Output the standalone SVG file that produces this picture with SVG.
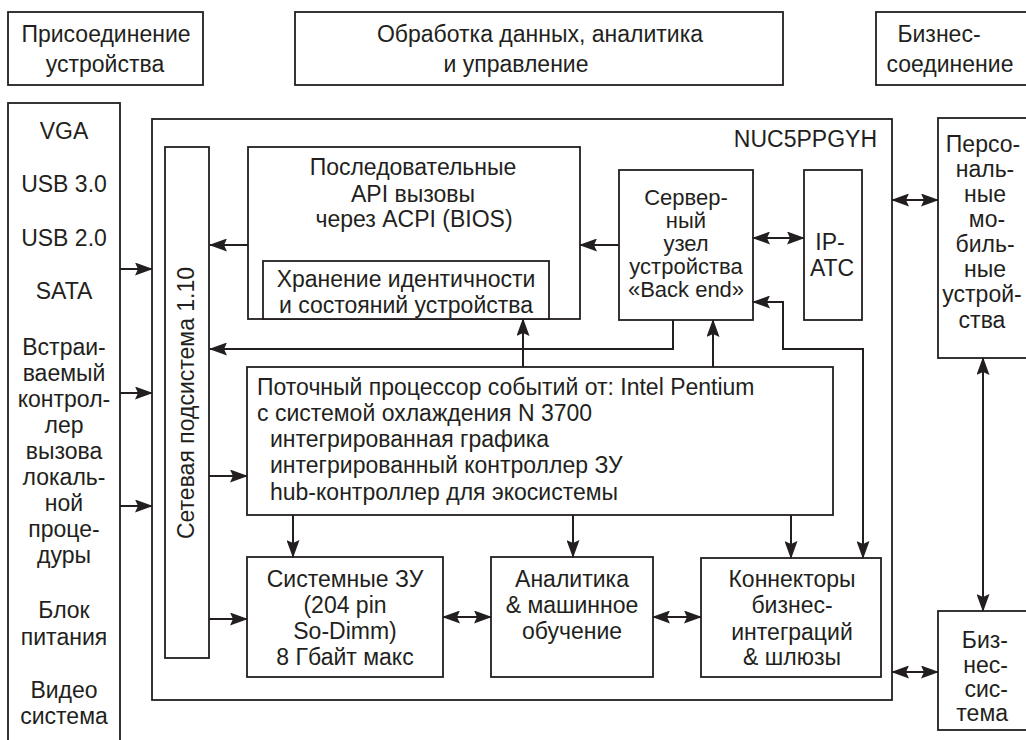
<svg xmlns="http://www.w3.org/2000/svg" width="1026" height="740" viewBox="0 0 1026 740">
<style>
.b{fill:#fff;stroke:#231f20;stroke-width:1.8}
.t{font-family:"Liberation Sans",Arial,sans-serif;font-size:23px;fill:#231f20}
.s{font-size:22px}
.m{text-anchor:middle}
.c{fill:none;stroke:#231f20;stroke-width:2}
.a{marker-end:url(#ah)}
.d{marker-start:url(#ah);marker-end:url(#ah)}
</style>
<defs>
<marker id="ah" viewBox="0 0 18 13" refX="17" refY="6.5" markerWidth="18" markerHeight="13" markerUnits="userSpaceOnUse" orient="auto-start-reverse">
<path d="M0,0 L18,6.5 L0,13 L3,6.5 z" fill="#231f20"/>
</marker>
</defs>
<rect width="1026" height="740" fill="#fff"/>

<g id="hdr-device">
<rect class="b" x="8" y="12" width="195" height="73"/>
<text class="t m" x="106" y="42">Присоединение</text>
<text class="t m" x="105" y="72">устройства</text>
</g>
<g id="hdr-processing">
<rect class="b" x="295" y="12" width="488" height="73"/>
<text class="t m" x="540" y="42">Обработка данных, аналитика</text>
<text class="t m" x="516" y="72">и управление</text>
</g>
<g id="hdr-business">
<rect class="b" x="876" y="12" width="160" height="73"/>
<text class="t m" x="939" y="42">Бизнес-</text>
<text class="t m" x="950" y="72">соединение</text>
</g>

<g id="devices">
<rect class="b" x="8" y="103" width="112" height="660"/>
<g class="t m">
<text x="64" y="139">VGA</text>
<text x="64" y="192">USB 3.0</text>
<text x="64" y="246">USB 2.0</text>
<text x="64" y="299">SATA</text>
<text x="64" y="355">Встраи-</text>
<text x="64" y="381">ваемый</text>
<text x="64" y="407">контрол-</text>
<text x="64" y="433">лер</text>
<text x="64" y="459">вызова</text>
<text x="64" y="485">локаль-</text>
<text x="64" y="511">ной</text>
<text x="64" y="537">проце-</text>
<text x="64" y="563">дуры</text>
<text x="64" y="618">Блок</text>
<text x="64" y="645">питания</text>
<text x="64" y="698">Видео</text>
<text x="64" y="724">система</text>
</g>
</g>

<g id="nuc">
<rect class="b" x="152" y="119" width="740" height="581"/>
<text class="t" x="877" y="147" text-anchor="end">NUC5PPGYH</text>
</g>

<g id="network">
<rect class="b" x="165" y="147" width="44" height="511"/>
<text class="t m" transform="translate(194,403) rotate(-90)">Сетевая подсистема 1.10</text>
</g>

<g id="api">
<rect class="b" x="248" y="147" width="332" height="172"/>
<text class="t m" x="413" y="175">Последовательные</text>
<text class="t m" x="413" y="202">API вызовы</text>
<text class="t m" x="414" y="227">через ACPI (BIOS)</text>
</g>
<g id="storage">
<rect class="b" x="263" y="261" width="286" height="58"/>
<text class="t m" x="406" y="287">Хранение идентичности</text>
<text class="t m" x="406" y="313">и состояний устройства</text>
</g>

<g id="server">
<rect class="b" x="619" y="170" width="134" height="150"/>
<g class="t s m">
<text x="686" y="205">Сервер-</text>
<text x="686" y="228">ный</text>
<text x="686" y="251">узел</text>
<text x="686" y="274">устройства</text>
<text x="686" y="297">«Back end»</text>
</g>
</g>

<g id="ipats">
<rect class="b" x="804" y="170" width="58" height="150"/>
<text class="t m" x="830" y="250">IP-</text>
<text class="t m" x="832" y="276">АТС</text>
</g>

<g id="personal">
<rect class="b" x="938" y="118" width="100" height="240"/>
<g class="t m">
<text x="983" y="152">Персо-</text>
<text x="985" y="177">наль-</text>
<text x="985" y="202">ные</text>
<text x="987" y="227">мо-</text>
<text x="985" y="252">биль-</text>
<text x="985" y="277">ные</text>
<text x="982" y="302">устрой-</text>
<text x="982" y="328">ства</text>
</g>
</g>

<g id="business">
<rect class="b" x="938" y="611" width="100" height="119"/>
<g class="t" text-anchor="end">
<text x="1008" y="648">Биз-</text>
<text x="1008" y="673">нес-</text>
<text x="1008" y="697">сис-</text>
<text x="1008" y="721">тема</text>
</g>
</g>

<g id="processor">
<rect class="b" x="247" y="367" width="586" height="148"/>
<text class="t" x="257" y="395">Поточный процессор событий от: Intel Pentium</text>
<text class="t" x="257" y="421">с системой охлаждения N 3700</text>
<text class="t" x="270" y="447">интегрированная графика</text>
<text class="t" x="270" y="473">интегрированный контроллер ЗУ</text>
<text class="t" x="270" y="500">hub-контроллер для экосистемы</text>
</g>

<g id="memory">
<rect class="b" x="247" y="557" width="196" height="120"/>
<text class="t m" x="345" y="587">Системные ЗУ</text>
<text class="t m" x="345" y="613">(204 pin</text>
<text class="t m" x="345" y="639">So-Dimm)</text>
<text class="t m" x="345" y="665">8 Гбайт макс</text>
</g>

<g id="analytics">
<rect class="b" x="491" y="557" width="162" height="120"/>
<text class="t m" x="572" y="587">Аналитика</text>
<text class="t m" x="572" y="613">&amp; машинное</text>
<text class="t m" x="572" y="639">обучение</text>
</g>

<g id="connectors-box">
<rect class="b" x="701" y="558" width="180" height="119"/>
<text class="t m" x="792" y="587">Коннекторы</text>
<text class="t m" x="792" y="613">бизнес-</text>
<text class="t m" x="792" y="640">интеграций</text>
<text class="t m" x="792" y="665">&amp; шлюзы</text>
</g>

<g id="connectors">
<line class="c a" x1="120" y1="269" x2="152" y2="269"/>
<line class="c a" x1="120" y1="393" x2="152" y2="393"/>
<line class="c a" x1="120" y1="506" x2="152" y2="506"/>
<line class="c a" x1="248" y1="245" x2="210" y2="245"/>
<path class="c a" d="M673,320 V349 H210"/>
<line class="c a" x1="209" y1="476" x2="247" y2="476"/>
<line class="c a" x1="209" y1="619" x2="247" y2="619"/>
<line class="c a" x1="619" y1="245" x2="580" y2="245"/>
<line class="c d" x1="753" y1="238" x2="804" y2="238"/>
<line class="c d" x1="892" y1="200" x2="938" y2="200"/>
<line class="c a" x1="523" y1="367" x2="523" y2="319"/>
<line class="c a" x1="713" y1="367" x2="713" y2="320"/>
<path class="c d" d="M753,302 H783 V349 H863 V558"/>
<line class="c a" x1="293" y1="515" x2="293" y2="557"/>
<line class="c a" x1="573" y1="515" x2="573" y2="557"/>
<line class="c a" x1="791" y1="515" x2="791" y2="558"/>
<line class="c d" x1="443" y1="617" x2="491" y2="617"/>
<line class="c d" x1="653" y1="617" x2="701" y2="617"/>
<line class="c d" x1="892" y1="672" x2="938" y2="672"/>
<line class="c d" x1="983" y1="358" x2="983" y2="611"/>
</g>
</svg>
